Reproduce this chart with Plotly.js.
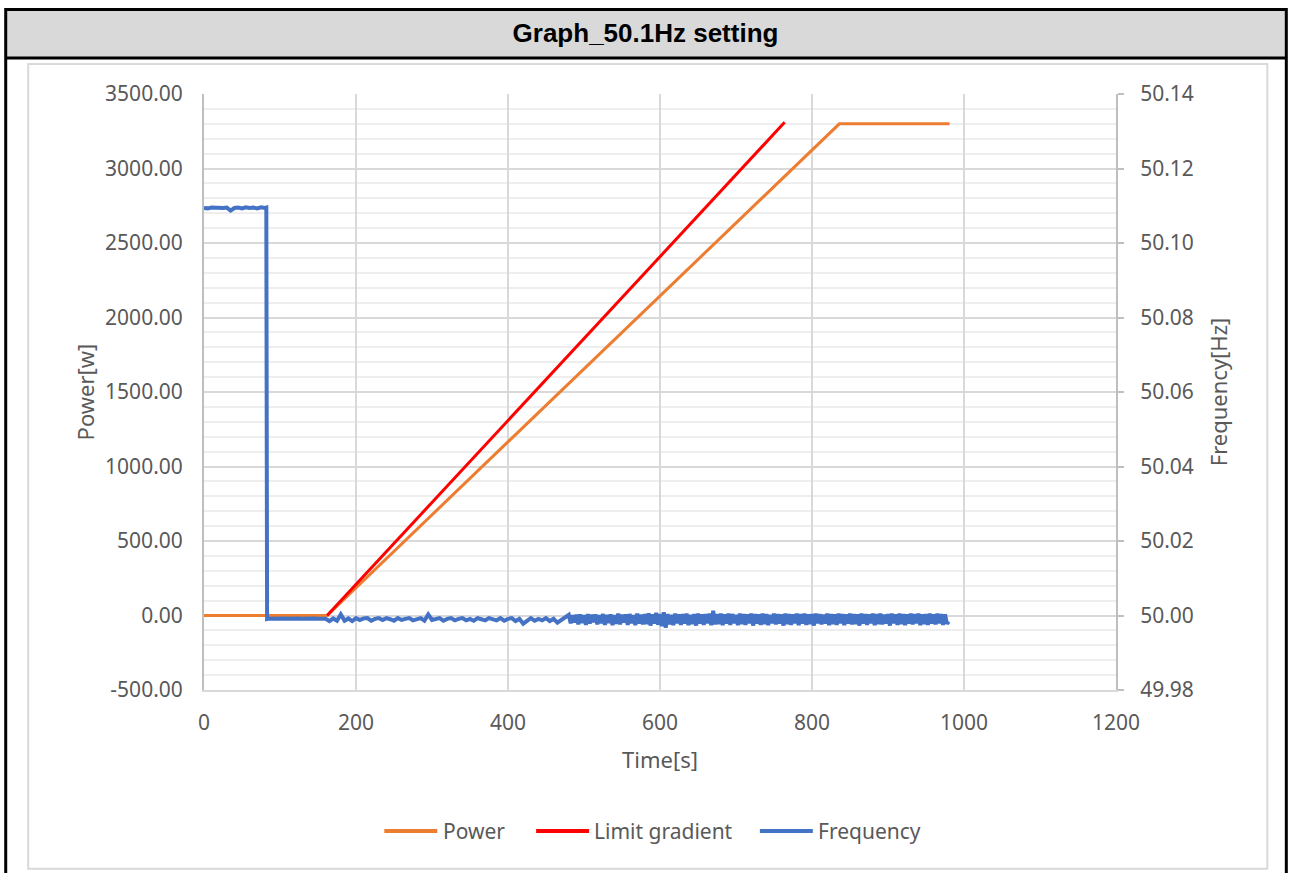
<!DOCTYPE html>
<html>
<head>
<meta charset="utf-8">
<script src="https://cdn.plot.ly/plotly-3.0.1.min.js"></script>
<style>html,body{margin:0;padding:0;background:#fff;}#chart{width:1291px;height:873px;}</style>
</head>
<body>
<div id="chart"></div>
<script>
// ---- data ----
const chartTitle = "Graph_50.1Hz setting";
const seriesNames = ["Power", "Limit gradient", "Frequency"];
const seriesColors = ["#ed7d31", "#ff0000", "#4472c4"];

const powerTickVals = [-500, 0, 500, 1000, 1500, 2000, 2500, 3000, 3500];
const powerTickText = ["-500.00", "0.00", "500.00", "1000.00", "1500.00", "2000.00", "2500.00", "3000.00", "3500.00"];

const powerTime = [0, 162, 836, 981];
const powerValue = [0, 0, 3300, 3300];

const limitTime = [162, 764];
const limitValue = [0, 3310];

const freqTimeA = [0,5,10,15,20,25,30,35,40,45,50,55,60,65,70,75,80,82,83];
const freqValueA = [50.1094,50.1093,50.1095,50.1094,50.1093,50.1094,50.1095,50.1087,50.1094,50.1095,
                    50.1093,50.1096,50.1094,50.1095,50.1093,50.1096,50.1094,50.1095,49.9991];

const freqTimeB = [
  85,90,95,100,105,110,115,120,125,130,
  135,140,145,150,155,160,165,170,175,180,
  185,190,195,200,205,210,215,220,225,230,
  235,240,245,250,255,260,265,270,275,280,
  285,290,295,300,305,310,315,320,325,330,
  335,340,345,350,355,360,365,370,375,380,
  385,390,395,400,405,410,415,420,425,430,
  435,440,445,450,455,460,465,470,475,480
];
const freqValueB = [
  49.9992,49.9991,49.9992,49.9991,49.9992,49.9991,49.9992,49.9991,49.9992,49.9991,
  49.9992,49.9991,49.9992,49.9991,49.9992,49.9991,49.9985,49.9992,49.9986,50.0003,
  49.9986,49.9992,49.9985,49.9993,49.9988,49.9992,49.9993,49.9986,49.9991,49.9993,
  49.9988,49.9993,49.9990,49.9986,49.9993,49.9988,49.9991,49.9993,49.9987,49.9991,
  49.9993,49.9986,50.0003,49.9988,49.9991,49.9993,49.9986,49.9991,49.9993,49.9987,
  49.9991,49.9993,49.9987,49.9991,49.9986,49.9993,49.9990,49.9987,49.9993,49.9991,
  49.9987,49.9993,49.9986,49.9991,49.9993,49.9985,49.9991,49.9978,49.9987,49.9993,
  49.9986,49.9991,49.9987,49.9993,49.9985,49.9991,49.9981,49.9987,49.9993,50.0002
];

const freqTimeC = [
  482.5,485,487.5,490,492.5,495,497.5,500,502.5,505,
  507.5,510,512.5,515,517.5,520,522.5,525,527.5,530,
  532.5,535,537.5,540,542.5,545,547.5,550,552.5,555,
  557.5,560,562.5,565,567.5,570,572.5,575,577.5,580,
  582.5,585,587.5,590,592.5,595,597.5,600,602.5,605,
  607.5,610,612.5,615,617.5,620,622.5,625,627.5,630,
  632.5,635,637.5,640,642.5,645,647.5,650,652.5,655,
  657.5,660,662.5,665,667.5,670,672.5,675,677.5,680,
  682.5,685,687.5,690,692.5,695,697.5,700,702.5,705,
  707.5,710,712.5,715,717.5,720,722.5,725,727.5,730,
  732.5,735,737.5,740,742.5,745,747.5,750,752.5,755,
  757.5,760,762.5,765,767.5,770,772.5,775,777.5,780,
  782.5,785,787.5,790,792.5,795,797.5,800,802.5,805,
  807.5,810,812.5,815,817.5,820,822.5,825,827.5,830,
  832.5,835,837.5,840,842.5,845,847.5,850,852.5,855,
  857.5,860,862.5,865,867.5,870,872.5,875,877.5,880,
  882.5,885,887.5,890,892.5,895,897.5,900,902.5,905,
  907.5,910,912.5,915,917.5,920,922.5,925,927.5,930,
  932.5,935,937.5,940,942.5,945,947.5,950,952.5,955,
  957.5,960,962.5,965,967.5,970,972.5,975,977.5,980
];
const freqValueC = [
  49.9979,50.0001,49.9981,50.0002,49.9976,50.0003,49.9980,50.0001,49.9975,50.0004,
  49.9978,50.0002,49.9982,50.0003,49.9976,50.0001,49.9979,50.0004,49.9975,50.0002,
  49.9980,50.0003,49.9974,50.0001,49.9978,50.0005,49.9976,50.0002,49.9981,50.0003,
  49.9975,50.0004,49.9979,50.0001,49.9974,50.0005,49.9978,50.0002,49.9976,50.0004,
  49.9977,50.0006,49.9973,50.0003,49.9978,50.0007,49.9975,50.0004,49.9971,50.0009,
  49.9967,50.0004,49.9976,50.0002,49.9974,50.0005,49.9979,50.0003,49.9975,50.0004,
  49.9978,50.0005,49.9974,50.0002,49.9977,50.0004,49.9973,50.0005,49.9978,50.0003,
  49.9975,50.0004,49.9979,50.0005,49.9974,50.0013,49.9976,50.0004,49.9977,50.0005,
  49.9974,50.0003,49.9978,50.0005,49.9975,50.0004,49.9979,50.0002,49.9974,50.0005,
  49.9977,50.0004,49.9975,50.0003,49.9979,50.0005,49.9973,50.0004,49.9978,50.0003,
  49.9975,50.0005,49.9977,50.0004,49.9974,50.0002,49.9979,50.0005,49.9976,50.0004,
  49.9978,50.0003,49.9973,50.0005,49.9977,50.0004,49.9975,50.0003,49.9979,50.0005,
  49.9974,50.0004,49.9978,50.0005,49.9975,50.0003,49.9977,50.0004,49.9973,50.0005,
  49.9979,50.0004,49.9976,50.0002,49.9978,50.0005,49.9974,50.0004,49.9977,50.0003,
  49.9975,50.0005,49.9979,50.0004,49.9974,50.0003,49.9978,50.0005,49.9976,50.0004,
  49.9977,50.0003,49.9973,50.0005,49.9978,50.0004,49.9975,50.0003,49.9979,50.0005,
  49.9974,50.0004,49.9977,50.0005,49.9976,50.0002,49.9978,50.0004,49.9973,50.0005,
  49.9979,50.0003,49.9975,50.0005,49.9977,50.0004,49.9974,50.0003,49.9978,50.0005,
  49.9976,50.0004,49.9979,50.0005,49.9974,50.0003,49.9977,50.0004,49.9975,50.0005,
  49.9978,50.0003,49.9976,50.0005,49.9979,50.0004,49.9975,50.0003,49.9978,49.9984
];

const freqTime = freqTimeA.concat(freqTimeB, freqTimeC);
const freqValue = freqValueA.concat(freqValueB, freqValueC);

// ---- layout helpers (pixel -> paper) ----
const PL = 203.5, PR = 1116.5, PT = 93.5, PB = 690;
const W = 1291, H = 873;
const px = x => (x - PL) / (PR - PL);
const py = y => (PB - y) / (PB - PT);

const fontFam = '"Noto Sans", "Open Sans", sans-serif';
const grey = '#595959';

const traces = [
  {x: powerTime, y: powerValue, name: seriesNames[0], type: 'scatter', mode: 'lines',
   line: {color: seriesColors[0], width: 3}},
  {x: limitTime, y: limitValue, name: seriesNames[1], type: 'scatter', mode: 'lines',
   line: {color: seriesColors[1], width: 3}},
  {x: freqTime, y: freqValue, name: seriesNames[2], type: 'scatter', mode: 'lines', yaxis: 'y2',
   line: {color: seriesColors[2], width: 4}}
];

// custom legend (to match spacing of the original)
const legLineX = [[384, 437], [536, 589], [760, 813]];
const legTextX = [442, 593, 817];
const legY = 831;

const shapes = [
  {type: 'rect', xref: 'paper', yref: 'paper', layer: 'below',
   x0: px(5), x1: px(1287), y0: py(57), y1: py(9), fillcolor: '#d9d9d9', line: {width: 0}},
  {type: 'rect', xref: 'paper', yref: 'paper', layer: 'below',
   x0: px(27.5), x1: px(1268), y0: py(869), y1: py(63.5), fillcolor: 'rgba(0,0,0,0)',
   line: {color: '#d9d9d9', width: 2}},
  {type: 'line', xref: 'paper', yref: 'paper', layer: 'above',
   x0: px(5), x1: px(1287), y0: py(57.5), y1: py(57.5), line: {color: '#000000', width: 3}},
  {type: 'rect', xref: 'paper', yref: 'paper', layer: 'above',
   x0: px(5), x1: px(1287), y0: py(880), y1: py(9), fillcolor: 'rgba(0,0,0,0)',
   line: {color: '#000000', width: 3}}
];
const annotations = [];
for (let i = 0; i < 3; i++) {
  shapes.push({type: 'line', xref: 'paper', yref: 'paper', layer: 'above',
    x0: px(legLineX[i][0]), x1: px(legLineX[i][1]), y0: py(legY), y1: py(legY),
    line: {color: seriesColors[i], width: 4}});
  annotations.push({xref: 'paper', yref: 'paper', x: px(legTextX[i]), y: py(legY),
    xanchor: 'left', yanchor: 'middle', showarrow: false, text: seriesNames[i],
    font: {size: 21, color: grey}, borderpad: 0});
}

const layout = {
  width: W, height: H,
  paper_bgcolor: '#ffffff', plot_bgcolor: '#ffffff',
  margin: {l: PL, r: W - PR, t: PT, b: H - PB, pad: 0},
  font: {family: fontFam, color: grey, size: 21},
  title: {text: chartTitle, x: 0.5, xref: 'container', xanchor: 'center',
          y: 1 - 33 / H, yref: 'container', yanchor: 'middle',
          font: {family: '"Liberation Sans", Arial, sans-serif', size: 26, color: '#000000', weight: 'bold'}},
  showlegend: false,
  xaxis: {range: [0, 1200], dtick: 200, tick0: 0, showgrid: true, gridcolor: '#d9d9d9', gridwidth: 2,
          zeroline: false, showline: true, linecolor: '#d9d9d9', linewidth: 2,
          ticks: '', ticklabelstandoff: 13, tickfont: {size: 21, color: grey},
          title: {text: 'Time[s]', font: {size: 22, color: grey}, standoff: 17}},
  yaxis: {range: [-500, 3500], tickmode: 'array', tickvals: powerTickVals, ticktext: powerTickText,
          showgrid: true, gridcolor: '#d9d9d9', gridwidth: 2,
          minor: {dtick: 100, tick0: 0, showgrid: true, gridcolor: '#eeeeee', gridwidth: 2, ticks: ''},
          zeroline: false, showline: true, linecolor: '#bfbfbf', linewidth: 2,
          ticks: '', ticklabelstandoff: 15, tickfont: {size: 21, color: grey},
          title: {text: 'Power[w]', font: {size: 22, color: grey}, standoff: 4}},
  yaxis2: {overlaying: 'y', side: 'right', range: [49.98, 50.14], dtick: 0.02, tick0: 49.98, tickformat: '.2f',
           showgrid: false, zeroline: false, showline: true, linecolor: '#bfbfbf', linewidth: 2,
           ticks: 'outside', ticklen: 6, tickwidth: 2, tickcolor: '#bfbfbf',
           ticklabelstandoff: 12, tickfont: {size: 21, color: grey},
           title: {text: 'Frequency[Hz]', font: {size: 22, color: grey}, standoff: 19}},
  shapes: shapes,
  annotations: annotations
};

Plotly.newPlot('chart', traces, layout, {displayModeBar: false, staticPlot: true});
</script>
</body>
</html>
